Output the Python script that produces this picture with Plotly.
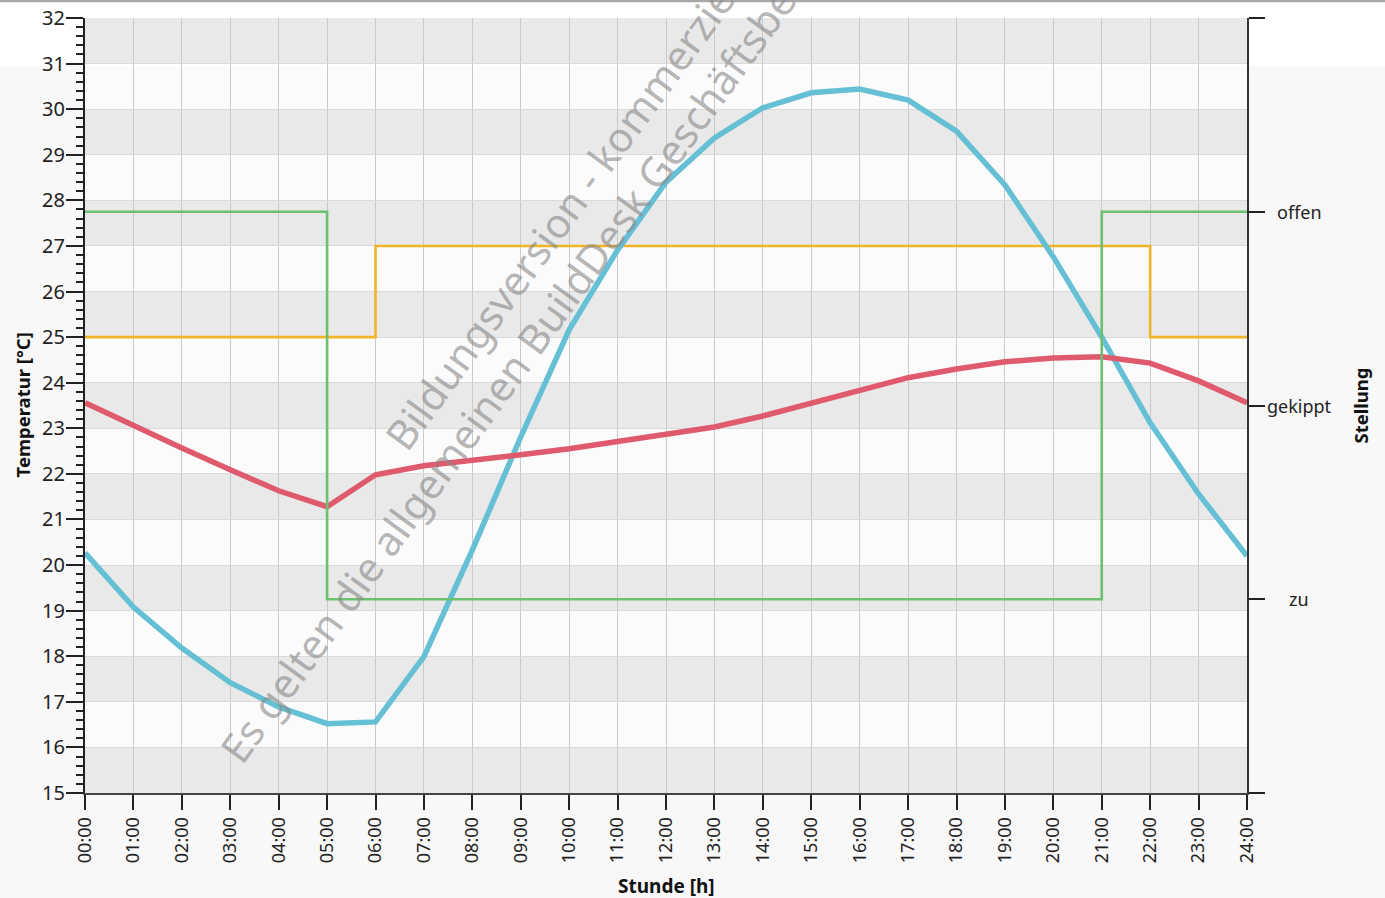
import plotly.graph_objects as go

# --- data -------------------------------------------------------------
stunden = list(range(25))
stunden_text = [f"{h:02d}:00" for h in stunden]

# room temperature [°C]
raumtemperatur = [23.56, 23.05, 22.57, 22.09, 21.63, 21.28, 21.98, 22.18, 22.29,
                  22.42, 22.55, 22.70, 22.86, 23.03, 23.27, 23.56, 23.84, 24.11,
                  24.30, 24.46, 24.54, 24.57, 24.43, 24.04, 23.56]

# outdoor temperature [°C]
aussentemperatur = [20.27, 19.08, 18.18, 17.42, 16.89, 16.52, 16.56, 17.99, 20.33,
                    22.81, 25.16, 26.91, 28.40, 29.37, 30.03, 30.36, 30.44, 30.20,
                    29.52, 28.34, 26.76, 25.00, 23.12, 21.56, 20.20]

# set point [°C], stepwise
sollwert_stunden = [0, 6, 22, 24]
sollwert = [25, 27, 25, 25]

# window position, stepwise
fenster_stunden = [0, 5, 21, 24]
fenster = ["offen", "zu", "offen", "offen"]

stellung_stufen = ["zu", "gekippt", "offen"]
stellung_wert = {"zu": 1, "gekippt": 2, "offen": 3}

# --- figure -------------------------------------------------------------
W, H = 1385, 898
ML, MR, MT, MB = 85, 138, 18, 105
PW, PH = W - ML - MR, H - MT - MB


def px_x(px):
    return (px - ML) / PW


def px_y(py):
    return (H - MB - py) / PH


FONT = "Noto Sans"
BLUE = "#66c0d5"
RED = "#e05a6d"
GREEN = "#6cc070"
ORANGE = "#f0b429"

fig = go.Figure()

fig.add_trace(go.Scatter(
    x=fenster_stunden, y=[stellung_wert[s] for s in fenster], yaxis="y2",
    mode="lines", line=dict(color=GREEN, width=2.6, shape="hv"),
    name="Fenster", hoverinfo="skip"))
fig.add_trace(go.Scatter(
    x=sollwert_stunden, y=sollwert, mode="lines",
    line=dict(color=ORANGE, width=2.6, shape="hv"), name="Sollwert"))
fig.add_trace(go.Scatter(
    x=stunden, y=aussentemperatur, mode="lines",
    line=dict(color=BLUE, width=5.5), name="Außentemperatur"))
fig.add_trace(go.Scatter(
    x=stunden, y=raumtemperatur, mode="lines",
    line=dict(color=RED, width=5.5), name="Raumtemperatur"))

shapes = []
# light top strip of the window and thin border line
shapes.append(dict(type="rect", xref="paper", yref="paper",
                   x0=px_x(0), x1=px_x(W), y0=px_y(66), y1=px_y(0),
                   fillcolor="#ffffff", line=dict(width=0), layer="below"))
shapes.append(dict(type="line", xref="paper", yref="paper",
                   x0=px_x(0), x1=px_x(W), y0=px_y(1), y1=px_y(1),
                   line=dict(color="#a8a8a8", width=2.5), layer="above"))
# alternating grey bands
for k in range(15, 32, 2):
    shapes.append(dict(type="rect", xref="x", yref="y", x0=0, x1=24,
                       y0=k, y1=k + 1, fillcolor="#e9e9e9",
                       line=dict(width=0), layer="below"))

annotations = []
# right-axis labels, centred under the tick marks
for s in stellung_stufen:
    annotations.append(dict(text=s, xref="paper", yref="y2", x=px_x(1299),
                            y=stellung_wert[s], showarrow=False,
                            xanchor="center", yanchor="middle",
                            font=dict(family=FONT, size=18, color="#222")))

annotations += [
    dict(text="<b>Temperatur [°C]</b>", xref="paper", yref="paper",
         x=px_x(22), y=0.5, showarrow=False, textangle=-90,
         xanchor="center", yanchor="middle",
         font=dict(family=FONT, size=18.5, color="#111")),
    dict(text="<b>Stellung</b>", xref="paper", yref="paper",
         x=px_x(1360), y=0.5, showarrow=False, textangle=-90,
         xanchor="center", yanchor="middle",
         font=dict(family=FONT, size=18.5, color="#111")),
    dict(text="<b>Stunde [h]</b>", xref="paper", yref="paper",
         x=px_x(666), y=px_y(886), showarrow=False,
         xanchor="center", yanchor="middle",
         font=dict(family=FONT, size=19, color="#111")),
]

# watermark
WM = dict(family=FONT, size=41, color="rgba(135,135,135,0.62)")
annotations += [
    dict(text="Bildungsversion - kommerzielle Nutzung untersagt",
         xref="paper", yref="paper", x=px_x(369), y=px_y(463),
         xanchor="left", yanchor="bottom", textangle=-54,
         showarrow=False, font=WM),
    dict(text="Es gelten die allgemeinen BuildDesk Geschäftsbedingungen",
         xref="paper", yref="paper", x=px_x(204), y=px_y(776),
         xanchor="left", yanchor="bottom", textangle=-54,
         showarrow=False, font=WM),
]

fig.update_layout(
    width=W, height=H,
    margin=dict(l=ML, r=MR, t=MT, b=MB, pad=0, autoexpand=False),
    paper_bgcolor="#f8f8f8", plot_bgcolor="#fbfbfb",
    showlegend=False,
    shapes=shapes, annotations=annotations,
    font=dict(family=FONT, color="#222"),
    xaxis=dict(range=[0, 24], tickvals=stunden, ticktext=stunden_text,
               tickangle=-90, ticks="outside", ticklen=15, tickwidth=2,
               tickcolor="#222", showline=True, linecolor="#444",
               linewidth=2, showgrid=True, gridcolor="#c9c9c9",
               gridwidth=1, zeroline=False,
               tickfont=dict(family=FONT, size=18, color="#222")),
    yaxis=dict(range=[15, 32], dtick=1, tick0=15, ticks="outside",
               ticklen=17, tickwidth=2, tickcolor="#222", showline=True,
               linecolor="#222", linewidth=2, showgrid=True,
               gridcolor="#d9d9d9", gridwidth=1, zeroline=False,
               ticklabelstandoff=-3,
               minor=dict(dtick=0.2, ticks="outside", ticklen=7,
                          tickwidth=1.5, tickcolor="#222", showgrid=False),
               tickfont=dict(family=FONT, size=20, color="#222")),
    yaxis2=dict(range=[0, 4], overlaying="y", side="right",
                tickvals=[0, 1, 2, 3, 4], ticks="outside", ticklen=16,
                tickwidth=2, tickcolor="#222", showticklabels=False,
                showline=True, linecolor="#333", linewidth=2,
                showgrid=False, zeroline=False),
)

fig.write_html("out.html")
